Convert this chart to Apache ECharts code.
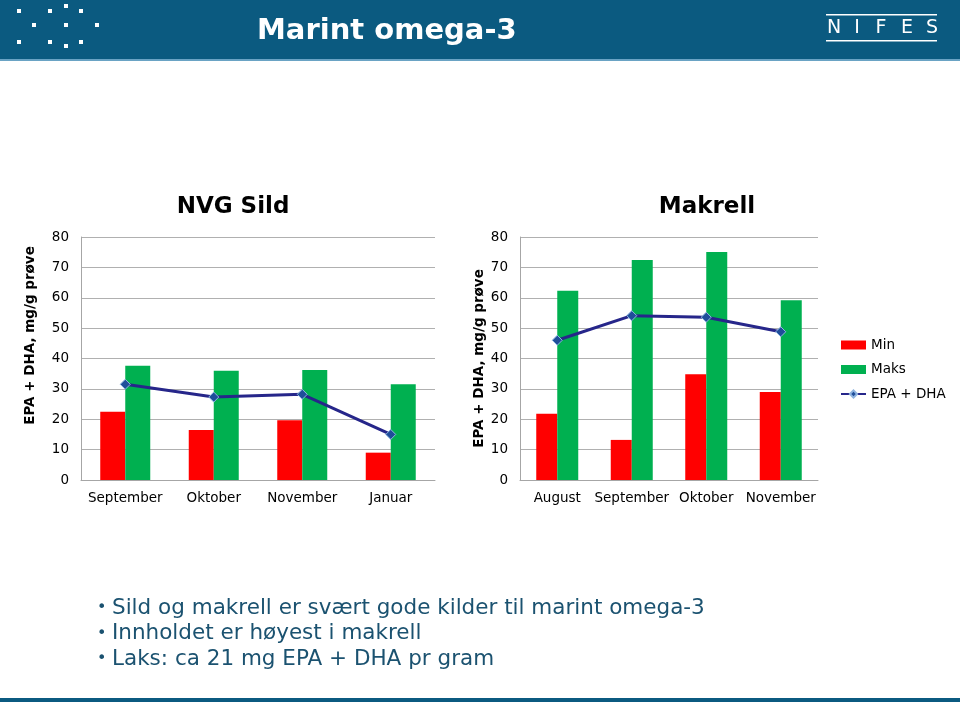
<!DOCTYPE html>
<html><head><meta charset="utf-8">
<script src="https://cdn.jsdelivr.net/npm/echarts@6/dist/echarts.min.js"></script>
<style>html,body{margin:0;padding:0;background:#fff}#c{width:960px;height:702px}</style>
</head><body><div id="c"></div>
<script>
const yTicks = [0,10,20,30,40,50,60,70,80];
const sildCats = ['September','Oktober','November','Januar'];
const sildMin = [22.5,16.5,19.7,9.0];
const sildMaks = [37.6,36.0,36.2,31.5];
const sildEpaDha = [31.5,27.3,28.2,15.0];
const makCats = ['August','September','Oktober','November'];
const makMin = [21.8,13.2,34.8,29.0];
const makMaks = [62.3,72.4,75.1,59.2];
const makEpaDha = [46.0,54.1,53.6,48.8];
const bullets = ['Sild og makrell er svært gode kilder til marint omega-3','Innholdet er høyest i makrell','Laks: ca 21 mg EPA + DHA pr gram'];

const FONT = 'DejaVu Sans';
const RED='#ff0000', GREEN='#00b050', LINE='#26268a', MARK='#1f4e9a';
const chart = echarts.init(document.getElementById('c'));

function yAxis(idx){
  return {gridIndex:idx,type:'value',min:yTicks[0],max:yTicks[yTicks.length-1],interval:10,
    name:'EPA + DHA, mg/g prøve',nameLocation:'middle',nameGap: idx===0?44:30,
    nameTextStyle:{fontFamily:FONT,fontWeight:'bold',fontSize:13.5,color:'#000',padding: idx===0?[0,0,0,46]:[0,0,0,0]},
    axisLine:{show:true,lineStyle:{color:'#a6a6a6'}},axisTick:{show:false},
    axisLabel:{fontFamily:FONT,fontSize:13.5,color:'#000',margin:12},
    splitLine:{lineStyle:{color:'#b0b0b0'}}};
}
function xAxis(idx,cats){
  return {gridIndex:idx,type:'category',data:cats,axisTick:{show:false},
    axisLine:{lineStyle:{color:'#a6a6a6'}},
    axisLabel:{fontFamily:FONT,fontSize:13.5,color:'#000',margin:11,interval:0}};
}
function series(idx,mn,mx,ep,bw){
  return [
    {name:'Min',type:'bar',xAxisIndex:idx,yAxisIndex:idx,data:mn,barWidth:bw,barGap:'0%',itemStyle:{color:RED}},
    {name:'Maks',type:'bar',xAxisIndex:idx,yAxisIndex:idx,data:mx,barWidth:bw,barGap:'0%',itemStyle:{color:GREEN}},
    {name:'EPA + DHA',type:'line',xAxisIndex:idx,yAxisIndex:idx,data:ep,symbol:'diamond',symbolSize:10,
      lineStyle:{color:LINE,width:3},itemStyle:{color:MARK,borderColor:'#8fb4e0',borderWidth:1},z:5}
  ];
}
const dots=[[19,11],[50,11],[66,6],[81,11],[34,25],[66,25],[97,25],[19,42],[50,42],[66,46],[81,42]];
const nifes=[['N',834],['I',857],['F',881],['E',907],['S',932]];
const graphics=[
  {type:'rect',shape:{x:0,y:0,width:960,height:59},style:{fill:'#0b5a80'}},
  {type:'rect',shape:{x:0,y:59,width:960,height:2},style:{fill:'#6aa3c4'}},
  {type:'rect',shape:{x:0,y:698,width:960,height:4},style:{fill:'#0b5a80'}},
  {type:'text',x:257,y:31,style:{text:'Marint omega-3',fill:'#fff',font:'bold 29px "DejaVu Sans"',textVerticalAlign:'middle'}},
  {type:'rect',shape:{x:826,y:14,width:111,height:1.5},style:{fill:'#fff'}},
  {type:'rect',shape:{x:826,y:40,width:111,height:1.5},style:{fill:'#fff'}},
  {type:'text',x:233,y:207,style:{text:'NVG Sild',fill:'#000',font:'bold 23px "DejaVu Sans"',textAlign:'center',textVerticalAlign:'middle'}},
  {type:'text',x:707,y:207,style:{text:'Makrell',fill:'#000',font:'bold 23px "DejaVu Sans"',textAlign:'center',textVerticalAlign:'middle'}}
];
nifes.forEach(n=>graphics.push({type:'text',x:n[1],y:28,style:{text:n[0],fill:'#fff',font:'19px "DejaVu Sans"',textAlign:'center',textVerticalAlign:'middle'}}));
dots.forEach(d=>graphics.push({type:'rect',shape:{x:d[0]-2,y:d[1]-2,width:4,height:4},style:{fill:'#fff'}}));
bullets.forEach((b,i)=>{
  graphics.push({type:'text',x:97,y:608+i*25.5,style:{text:'•',fill:'#1b5270',font:'16px "DejaVu Sans"',textVerticalAlign:'middle'}});
  graphics.push({type:'text',x:112,y:608+i*25.5,style:{text:b,fill:'#1b5270',font:'21.5px "DejaVu Sans"',textVerticalAlign:'middle'}});
});

chart.setOption({
  animation:false,
  textStyle:{fontFamily:FONT},
  grid:[{left:81,top:237,width:354,height:243},{left:520,top:237,width:298,height:243}],
  xAxis:[xAxis(0,sildCats),xAxis(1,makCats)],
  yAxis:[yAxis(0),yAxis(1)],
  legend:{left:840,top:338,padding:0,orient:'vertical',itemWidth:25,itemHeight:9,itemGap:10.5,
    textStyle:{fontFamily:FONT,fontSize:13.5,color:'#000'},
    data:[{name:'Min',icon:'rect'},{name:'Maks',icon:'rect'},{name:'EPA + DHA'}]},
  series:[...series(0,sildMin,sildMaks,sildEpaDha,25),...series(1,makMin,makMaks,makEpaDha,21)],
  graphic:graphics
});
</script></body></html>
